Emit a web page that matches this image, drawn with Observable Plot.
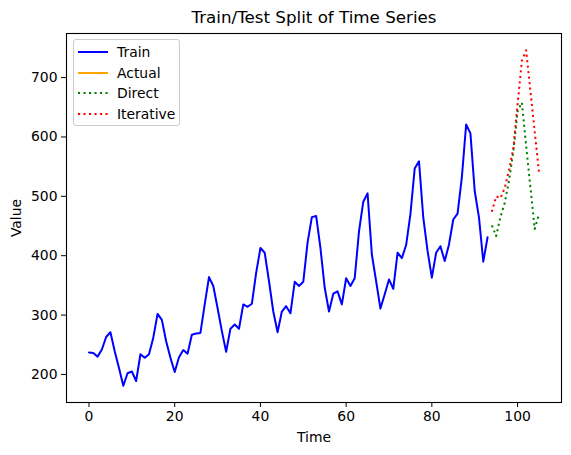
<!DOCTYPE html>
<html>
<head>
<meta charset="utf-8">
<script src="https://cdn.jsdelivr.net/npm/d3@7"></script>
<script src="https://cdn.jsdelivr.net/npm/@observablehq/plot@0.6"></script>
<style>
  body { margin: 0; background: #fff; font-family: "DejaVu Sans", sans-serif; }
  #wrap { position: relative; width: 571px; height: 455px; overflow: hidden; }
  #title { position: relative; height: 28px; width: 571px; }
  #title span { position: absolute; left: 66px; width: 496px; top: 8px; text-align: center; font-size: 16.7px; line-height: 18px; color: #000; white-space: nowrap; }
  #legend { position: absolute; left: 73px; top: 39px; width: 107px; height: 87px; border: 1px solid #cccccc; border-radius: 3px; background: rgba(255,255,255,0.8); box-sizing: border-box; }
  .entry { position: absolute; left: 0; height: 20px; width: 107px; }
  .entry svg { position: absolute; left: 3px; top: 0; }
  .entry span { position: absolute; left: 43px; top: 1px; font-size: 13.9px; line-height: 18px; color: #000; white-space: nowrap; }
  #chart svg { display: block; }
</style>
</head>
<body>
<div id="wrap">
  <div id="title"><span>Train/Test Split of Time Series</span></div>
  <div id="chart"></div>
  <div id="legend"></div>
</div>
<script>
// ---- data ----
const trainStart = 0;
const testStart = 94;
const trainValues = [237, 236, 230, 242, 263, 271, 239, 211, 181, 202, 205, 189, 234, 228, 234, 262, 302, 292, 256, 228,
  204, 229, 241, 235, 267, 269, 270, 318, 364, 349, 312, 273, 238, 277, 284, 277, 318, 314, 319, 371,
  413, 405, 357, 306, 271, 306, 315, 303, 356, 349, 356, 422, 465, 467, 413, 346, 306, 336, 340, 318,
  362, 349, 362, 441, 491, 505, 402, 357, 311, 335, 360, 344, 405, 396, 418, 470, 547, 559, 464, 408,
  363, 405, 416, 391, 419, 461, 471, 532, 621, 606, 509, 464, 390, 431];
const actualValues = [];
const directValues = [451, 433, 465, 489, 526, 575, 643, 658, 585, 515, 445, 470];
const iterativeValues = [474, 500, 497, 514, 544, 580, 655, 728, 746, 677, 609, 540];
const seriesNames = ["Train", "Actual", "Direct", "Iterative"];
const seriesColors = ["blue", "orange", "green", "red"];
const seriesDash = [null, null, "2.1,3.4", "2.1,3.4"];
const xTicks = [0, 20, 40, 60, 80, 100];
const yTicks = [200, 300, 400, 500, 600, 700];

const toRows = (vals, start) => vals.map((v, i) => ({t: start + i, v}));
const seriesRows = [
  toRows(trainValues, trainStart),
  toRows(actualValues, testStart),
  toRows(directValues, testStart),
  toRows(iterativeValues, testStart)
];

const all = seriesRows.flat();
const pad = (ext) => { const s = ext[1] - ext[0]; return [ext[0] - 0.05 * s, ext[1] + 0.05 * s]; };
const xDomain = pad(d3.extent(all, d => d.t));
const yDomain = pad(d3.extent(all, d => d.v));

const lineMarks = seriesRows.map((rows, k) =>
  Plot.line(rows, {x: "t", y: "v", stroke: seriesColors[k], strokeWidth: 2,
    strokeDasharray: seriesDash[k] || undefined,
    strokeLinecap: seriesDash[k] ? "butt" : "round"}));

const chart = Plot.plot({
  width: 571,
  height: 427,
  marginLeft: 66,
  marginRight: 10,
  marginTop: 5,
  marginBottom: 53,
  x: {domain: xDomain},
  y: {domain: yDomain},
  style: {fontFamily: "DejaVu Sans", fontSize: "13.9px", color: "black", background: "white"},
  marks: [
    Plot.axisX(xTicks, {tickSize: 5, tickPadding: 4, label: "Time", labelAnchor: "center", labelArrow: "none", labelOffset: 39}),
    Plot.axisY(yTicks, {tickSize: 5, tickPadding: 4, label: "Value", labelAnchor: "center", labelArrow: "none", labelOffset: 55}),
    ...lineMarks,
    Plot.frame({stroke: "black", strokeWidth: 1.1})
  ]
});
document.getElementById("chart").appendChild(chart);

// ---- legend ----
const legend = document.getElementById("legend");
seriesNames.forEach((name, k) => {
  const e = document.createElement("div");
  e.className = "entry";
  e.style.top = (2 + k * 20.7) + "px";
  const dash = seriesDash[k] ? ` stroke-dasharray="${seriesDash[k]}"` : "";
  e.innerHTML = `<svg width="32" height="20"><line x1="1" x2="31" y1="10" y2="10" stroke="${seriesColors[k]}" stroke-width="2"${dash}/></svg><span>${name}</span>`;
  legend.appendChild(e);
});
</script>
</body>
</html>
